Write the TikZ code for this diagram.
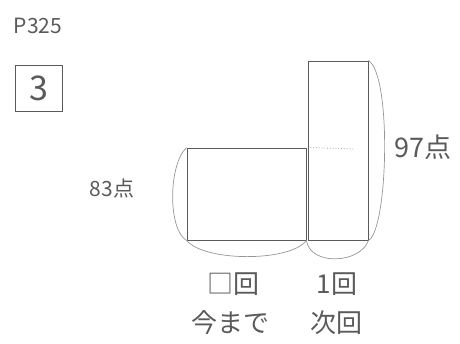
\documentclass[tikz,border=0pt]{standalone}
\usepackage{fontspec}
\newfontfamily\jpfont{Noto Sans CJK JP}
\usetikzlibrary{positioning}
\definecolor{pencil}{RGB}{90,90,90}
\definecolor{pencillight}{RGB}{150,150,150}

\begin{document}
\begin{tikzpicture}[x=1pt, y=-1pt]
\tikzstyle{bar} = [rectangle, draw=pencil, line width=0.9pt, inner sep=0pt]
\tikzstyle{brace} = [draw=pencillight, line width=0.7pt]
\tikzstyle{label} = [text=pencil, font=\jpfont\fontsize{26}{28}\selectfont, inner sep=1pt]
    \useasboundingbox (0,0) rectangle (460,344);

    % Place nodes
    \node [label, font=\jpfont\fontsize{21}{23}\selectfont] (page) at (38,26) {P325};
    \node [label, draw=pencil, line width=0.8pt, minimum width=47pt, minimum height=46pt,
           font=\jpfont\fontsize{34}{36}\selectfont] (num) at (39,88) {3};
    \node [bar, minimum width=119pt, minimum height=92pt] (past) at (246.5,194) {};
    \node [bar, minimum width=60pt, minimum height=179pt] (next) at (338,150.5) {};
    \node [label, font=\jpfont\fontsize{27}{29}\selectfont] (high) at (423,147) {97点};
    \node [label, font=\jpfont\fontsize{21}{23}\selectfont] (avg) at (112,189) {83点};
    \node [label] (times) at (233,284) {□回};
    \node [label] (once) at (337,284) {1回};
    \node [label] (sofar) at (230,323) {今まで};
    \node [label] (nexttime) at (336,323) {次回};
    \coordinate (dotend) at (355,149);

%paths
    \draw [pencillight, line width=0.8pt, dotted] (next.west |- past.north) -- (dotend);
    \draw [brace] (past.north west) .. controls (168,165) and (168,230) .. (past.south west);
    \draw [brace] (next.north east) .. controls (392,75) and (388,230) .. (next.south east);
    \draw [brace] (past.south west) .. controls (205,262) and (290,262) .. (past.south east);
    \draw [brace] (past.south east) .. controls (310,266) and (360,264) .. (next.south east);

\end{tikzpicture}
\end{document}
